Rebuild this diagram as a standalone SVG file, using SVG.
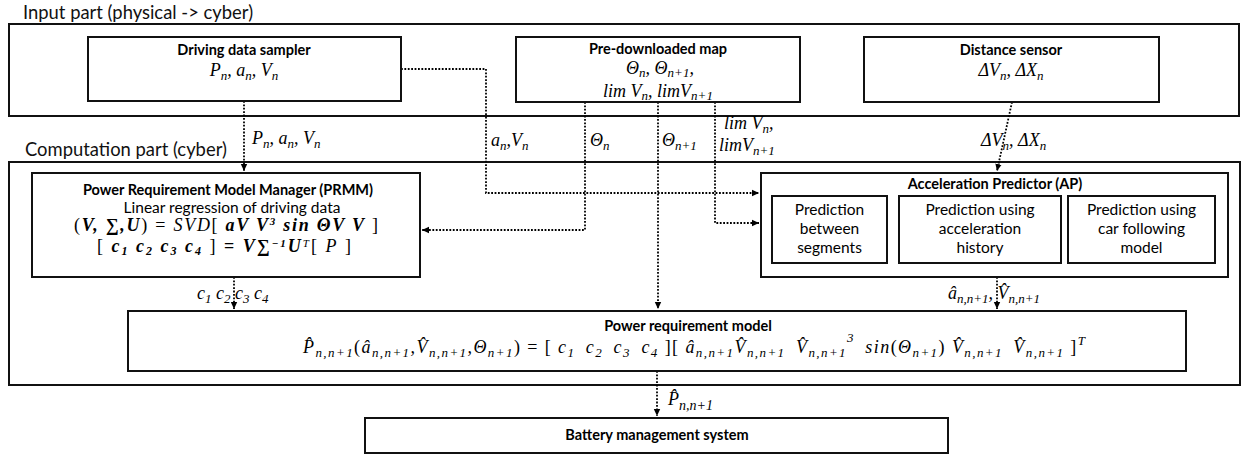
<svg xmlns="http://www.w3.org/2000/svg" width="1248" height="460" viewBox="0 0 1248 460">
  <defs>
    <marker id="ah" markerWidth="8" markerHeight="8" refX="7" refY="4" orient="auto" markerUnits="userSpaceOnUse">
      <path d="M0,0.8 L7,4 L0,7.2 Z" fill="#000"/>
    </marker>
    <style>
      .box{fill:#fff;stroke:#111;stroke-width:2}
      .frame{fill:none;stroke:#111;stroke-width:2}
      .lbl{font-family:Lato,"Liberation Sans",sans-serif;font-size:18.4px;fill:#111}
      .t{font-family:Lato,"Liberation Sans",sans-serif;font-size:14.5px;font-weight:bold;fill:#000;text-anchor:middle}
      .r{font-family:Lato,"Liberation Sans",sans-serif;font-size:15.5px;fill:#000;text-anchor:middle}
      .m{font-family:"Liberation Serif","DejaVu Serif",serif;font-style:italic;font-size:18px;fill:#000}
      .s{font-size:13px}
      .mid{text-anchor:middle}
      .b{font-weight:bold}
      .u{font-style:normal}
      .c{fill:none;stroke:#000;stroke-width:1.8;stroke-dasharray:1.8 1.6}
    </style>
  </defs>

  <rect width="1248" height="460" fill="#fff"/>

  <!-- outer zones -->
  <g id="input-part">
    <rect class="frame" x="9" y="24" width="1230" height="92"/>
    <text class="lbl" x="23" y="19">Input part (physical -&gt; cyber)</text>
  </g>
  <g id="computation-part">
    <rect class="frame" x="9" y="162" width="1231" height="223"/>
    <text class="lbl" x="25" y="156">Computation part (cyber)</text>
  </g>

  <!-- data flows -->
  <g id="connectors">
    <path class="c" d="M244,101 V171" marker-end="url(#ah)"/>
    <path class="c" d="M401,69 H486 V193 H759" marker-end="url(#ah)"/>
    <path class="c" d="M585,102 V230 H422" marker-end="url(#ah)"/>
    <path class="c" d="M658,102 V309" marker-end="url(#ah)"/>
    <path class="c" d="M715,102 V223 H759" marker-end="url(#ah)"/>
    <path class="c" d="M1012,102 L997,171" marker-end="url(#ah)"/>
    <path class="c" d="M234,277 V309" marker-end="url(#ah)"/>
    <path class="c" d="M997,277 V309" marker-end="url(#ah)"/>
    <path class="c" d="M657,371 V416" marker-end="url(#ah)"/>

    <text class="m" x="252" y="144">P<tspan class="s" dy="4">n</tspan><tspan dy="-4">, a</tspan><tspan class="s" dy="4">n</tspan><tspan dy="-4">, V</tspan><tspan class="s" dy="4">n</tspan></text>
    <text class="m" x="491" y="146">a<tspan class="s" dy="4">n</tspan><tspan dy="-4">,V</tspan><tspan class="s" dy="4">n</tspan></text>
    <text class="m" x="590" y="146">Θ<tspan class="s" dy="4">n</tspan></text>
    <text class="m" x="662" y="146">Θ<tspan class="s" dy="4">n+1</tspan></text>
    <text class="m" x="724" y="129">lim V<tspan class="s" dy="4">n</tspan><tspan dy="-4">,</tspan></text>
    <text class="m" x="719" y="151">limV<tspan class="s" dy="4">n+1</tspan></text>
    <text class="m" x="981" y="146">ΔV<tspan class="s" dy="4">n</tspan><tspan dy="-4">, ΔX</tspan><tspan class="s" dy="4">n</tspan></text>
    <text class="m" x="197" y="299">c<tspan class="s" dy="4">1</tspan><tspan dy="-4"> c</tspan><tspan class="s" dy="4">2</tspan><tspan dy="-4"> c</tspan><tspan class="s" dy="4">3</tspan><tspan dy="-4"> c</tspan><tspan class="s" dy="4">4</tspan></text>
    <text class="m" x="948" y="299">â<tspan class="s" dy="4">n,n+1</tspan><tspan dy="-4">, V&#x302;</tspan><tspan class="s" dy="4">n,n+1</tspan></text>
    <text class="m" x="668" y="405" font-size="20">P&#x302;<tspan font-size="14" dy="5">n,n+1</tspan></text>
  </g>

  <!-- input nodes -->
  <g id="driving-data-sampler">
    <rect class="box" x="88" y="37" width="313" height="64"/>
    <text class="t" x="244" y="55">Driving data sampler</text>
    <text class="m mid" x="244" y="76">P<tspan class="s" dy="4">n</tspan><tspan dy="-4">, a</tspan><tspan class="s" dy="4">n</tspan><tspan dy="-4">, V</tspan><tspan class="s" dy="4">n</tspan></text>
  </g>
  <g id="pre-downloaded-map">
    <rect class="box" x="516" y="37" width="284" height="65"/>
    <text class="t" x="658" y="54">Pre-downloaded map</text>
    <text class="m mid" x="660" y="74" font-size="17">Θ<tspan class="s" dy="3">n</tspan><tspan dy="-3">, Θ</tspan><tspan class="s" dy="3">n+1</tspan><tspan dy="-3">,</tspan></text>
    <text class="m mid" x="658" y="97" font-size="17">lim V<tspan class="s" dy="3">n</tspan><tspan dy="-3">, limV</tspan><tspan class="s" dy="3">n+1</tspan></text>
  </g>
  <g id="distance-sensor">
    <rect class="box" x="864" y="37" width="295" height="65"/>
    <text class="t" x="1011" y="55">Distance sensor</text>
    <text class="m mid" x="1011" y="76">ΔV<tspan class="s" dy="4">n</tspan><tspan dy="-4">, ΔX</tspan><tspan class="s" dy="4">n</tspan></text>
  </g>

  <!-- computation nodes -->
  <g id="prmm">
    <rect class="box" x="32" y="173" width="388" height="104"/>
    <text class="t" x="228" y="195">Power Requirement Model Manager (PRMM)</text>
    <text class="r" x="232" y="213">Linear regression of driving data</text>
    <text class="m" x="74" y="231" font-size="17" textLength="304"><tspan class="u">(</tspan><tspan class="b">V, ∑,U</tspan><tspan class="u">) = </tspan>SVD<tspan class="u">[ </tspan><tspan class="b">aV  V</tspan><tspan class="b" font-size="11" dy="-6">3</tspan><tspan class="b" dy="6">  sin ΘV  V</tspan><tspan class="u"> ]</tspan></text>
    <text class="m" x="97" y="252" font-size="17" textLength="254"><tspan class="u">[ </tspan><tspan class="b">c</tspan><tspan class="b" font-size="12" dy="3">1</tspan><tspan class="b" dy="-3"> c</tspan><tspan class="b" font-size="12" dy="3">2</tspan><tspan class="b" dy="-3"> c</tspan><tspan class="b" font-size="12" dy="3">3</tspan><tspan class="b" dy="-3"> c</tspan><tspan class="b" font-size="12" dy="3">4</tspan><tspan class="u" dy="-3"> ] </tspan><tspan class="b u">= </tspan><tspan class="b">V∑</tspan><tspan class="b" font-size="11" dy="-5">−1</tspan><tspan class="b" dy="5">U</tspan><tspan font-size="11" dy="-5">T</tspan><tspan class="u" dy="5">[ </tspan><tspan>P</tspan><tspan class="u"> ]</tspan></text>
  </g>

  <g id="acceleration-predictor">
    <rect class="box" x="761" y="173" width="467" height="104"/>
    <text class="t" x="995" y="189">Acceleration Predictor (AP)</text>
    <g id="ap-between-segments">
      <rect class="box" x="772" y="196" width="115" height="67"/>
      <text class="r" x="829.5" y="215">Prediction</text>
      <text class="r" x="829.5" y="234">between</text>
      <text class="r" x="829.5" y="253">segments</text>
    </g>
    <g id="ap-acceleration-history">
      <rect class="box" x="899" y="196" width="162" height="67"/>
      <text class="r" x="980" y="215">Prediction using</text>
      <text class="r" x="980" y="234">acceleration</text>
      <text class="r" x="980" y="253">history</text>
    </g>
    <g id="ap-car-following">
      <rect class="box" x="1068" y="196" width="147" height="67"/>
      <text class="r" x="1141.5" y="215">Prediction using</text>
      <text class="r" x="1141.5" y="234">car following</text>
      <text class="r" x="1141.5" y="253">model</text>
    </g>
  </g>

  <g id="power-requirement-model">
    <rect class="box" x="128" y="311" width="1058" height="60"/>
    <text class="t" x="688" y="331">Power requirement model</text>
    <!-- prediction formula; en spaces hold the gaps between terms -->
    <text class="m" x="303" y="353" font-size="19" textLength="782">P&#x302;<tspan class="s" dy="4">n,n+1</tspan><tspan class="u" dy="-4">(</tspan><tspan>â</tspan><tspan class="s" dy="4">n,n+1</tspan><tspan dy="-4">,V&#x302;</tspan><tspan class="s" dy="4">n,n+1</tspan><tspan dy="-4">,Θ</tspan><tspan class="s" dy="4">n+1</tspan><tspan class="u" dy="-4">) = [ </tspan><tspan>c</tspan><tspan class="s" dy="4">1</tspan><tspan dy="-4">&#x2002;c</tspan><tspan class="s" dy="4">2</tspan><tspan dy="-4">&#x2002;c</tspan><tspan class="s" dy="4">3</tspan><tspan dy="-4">&#x2002;c</tspan><tspan class="s" dy="4">4</tspan><tspan class="u" dy="-4"> ][ </tspan><tspan>â</tspan><tspan class="s" dy="4">n,n+1</tspan><tspan dy="-4">V&#x302;</tspan><tspan class="s" dy="4">n,n+1</tspan><tspan dy="-4">&#x2002;V&#x302;</tspan><tspan class="s" dy="4">n,n+1</tspan><tspan class="s" dy="-15">3</tspan><tspan dy="11">&#x2002;sin</tspan><tspan class="u">(</tspan><tspan>Θ</tspan><tspan class="s" dy="4">n+1</tspan><tspan class="u" dy="-4">) </tspan><tspan>V&#x302;</tspan><tspan class="s" dy="4">n,n+1</tspan><tspan dy="-4">&#x2002;V&#x302;</tspan><tspan class="s" dy="4">n,n+1</tspan><tspan class="u" dy="-4"> ]</tspan><tspan class="s" dy="-8">T</tspan></text>
  </g>

  <g id="battery-management-system">
    <rect class="box" x="365" y="418" width="583" height="35"/>
    <text class="t" x="657" y="440">Battery management system</text>
  </g>
</svg>
